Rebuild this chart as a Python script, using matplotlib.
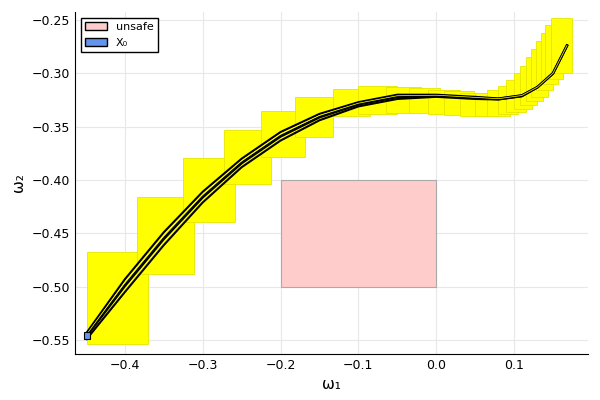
import matplotlib
matplotlib.use("Agg")
import matplotlib.pyplot as plt
from matplotlib.patches import Rectangle, Patch

# reach-set boxes: x_lo, x_hi, y_lo, y_hi
box_xlo = [-0.449,-0.384,-0.325,-0.273,-0.225,-0.182,-0.132,-0.100,-0.065,-0.035,-0.010,0.010,0.030,0.050,0.065,0.080,0.090,0.100,0.108,0.115,0.122,0.128,0.135,0.140,0.148]
box_xhi = [-0.370,-0.311,-0.259,-0.212,-0.168,-0.132,-0.085,-0.050,-0.020,0.005,0.030,0.048,0.065,0.080,0.095,0.105,0.115,0.123,0.130,0.137,0.143,0.150,0.157,0.163,0.175]
box_ylo = [-0.554,-0.488,-0.439,-0.404,-0.378,-0.360,-0.340,-0.338,-0.337,-0.337,-0.338,-0.339,-0.340,-0.340,-0.340,-0.338,-0.336,-0.333,-0.330,-0.326,-0.322,-0.316,-0.310,-0.305,-0.300]
box_yhi = [-0.467,-0.416,-0.379,-0.353,-0.335,-0.322,-0.315,-0.312,-0.313,-0.314,-0.316,-0.317,-0.318,-0.318,-0.316,-0.312,-0.306,-0.300,-0.293,-0.285,-0.277,-0.270,-0.262,-0.255,-0.248]

traj_x = [-0.449,-0.40,-0.35,-0.30,-0.25,-0.20,-0.15,-0.10,-0.05,0.0,0.05,0.08,0.11,0.13,0.15,0.168]
traj_mid = [-0.546,-0.499,-0.455,-0.416,-0.384,-0.359,-0.341,-0.329,-0.322,-0.321,-0.323,-0.324,-0.321,-0.313,-0.300,-0.274]
traj_up = [-0.543,-0.493,-0.449,-0.411,-0.380,-0.355,-0.338,-0.327,-0.320,-0.320,-0.322,-0.3235,-0.3205,-0.3128,-0.2998,-0.2738]
traj_lo = [-0.549,-0.505,-0.461,-0.421,-0.388,-0.363,-0.344,-0.331,-0.324,-0.322,-0.324,-0.3245,-0.3215,-0.3132,-0.3002,-0.2742]

unsafe = (-0.2, 0.0, -0.5, -0.4)
x0 = (-0.452, -0.445, -0.549, -0.542)

fig, ax = plt.subplots(figsize=(6, 4), dpi=100)
fig.subplots_adjust(left=0.125, right=0.98, top=0.97, bottom=0.115)

ax.add_patch(Rectangle((unsafe[0], unsafe[2]), unsafe[1]-unsafe[0], unsafe[3]-unsafe[2],
                       facecolor=(1, 0.8, 0.8), edgecolor="#aaaaaa", lw=0.8, zorder=2))
for a, b, c, d in zip(box_xlo, box_xhi, box_ylo, box_yhi):
    ax.add_patch(Rectangle((a, c), b-a, d-c, facecolor="yellow", edgecolor="#e5e500", lw=0.6, zorder=3))
for ys, lw in [(traj_up, 1.5), (traj_lo, 1.5), (traj_mid, 2.0)]:
    ax.plot(traj_x, ys, color="black", lw=lw, zorder=4)
ax.plot(traj_x, [(u+m)/2 for u, m in zip(traj_up, traj_mid)], color="yellow", lw=0.5, zorder=4)
ax.add_patch(Rectangle((x0[0], x0[2]), x0[1]-x0[0], x0[3]-x0[2], facecolor="#6495ED",
                       edgecolor="black", lw=0.8, zorder=5))

ax.set_xlim(-0.464, 0.195)
ax.set_ylim(-0.563, -0.2425)
ax.set_xticks([-0.4, -0.3, -0.2, -0.1, 0.0, 0.1])
ax.set_yticks([-0.55, -0.50, -0.45, -0.40, -0.35, -0.30, -0.25])
ax.set_yticklabels(["−0.55", "−0.50", "−0.45", "−0.40", "−0.35", "−0.30", "−0.25"])
ax.set_xticklabels(["−0.4", "−0.3", "−0.2", "−0.1", "0.0", "0.1"])
ax.grid(True, color="#e8e8e8", lw=0.8, zorder=0)
ax.set_axisbelow(True)
for s in ["top", "right"]:
    ax.spines[s].set_visible(False)
ax.tick_params(length=0, labelsize=9)
ax.set_xlabel("ω₁", fontsize=11)
ax.set_ylabel("ω₂", fontsize=11)
ax.legend(handles=[Patch(facecolor=(1, 0.8, 0.8), edgecolor="black", label="unsafe"),
                   Patch(facecolor="#6495ED", edgecolor="black", label="X₀")],
          loc="upper left", fontsize=8, fancybox=False, edgecolor="black", framealpha=1)
fig.savefig("out.png")
